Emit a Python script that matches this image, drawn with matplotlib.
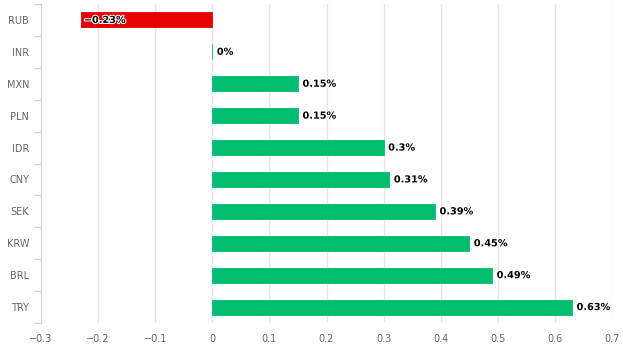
import numpy as np
import matplotlib.pyplot as plt
import matplotlib.patheffects as pe

currencies = ['RUB', 'INR', 'MXN', 'PLN', 'IDR', 'CNY', 'SEK', 'KRW', 'BRL', 'TRY']
changes = [-0.23, 0.0, 0.15, 0.15, 0.30, 0.31, 0.39, 0.45, 0.49, 0.63]
labels = ['\u22120.23%', '0%', '0.15%', '0.15%', '0.3%', '0.31%', '0.39%', '0.45%', '0.49%', '0.63%']
xticks = [-0.3, -0.2, -0.1, 0, 0.1, 0.2, 0.3, 0.4, 0.5, 0.6, 0.7]
xtick_labels = ['\u22120.3', '\u22120.2', '\u22120.1', '0', '0.1', '0.2', '0.3', '0.4', '0.5', '0.6', '0.7']

fig = plt.figure(figsize=(6.23, 3.52), dpi=100)
ax = fig.add_axes([41 / 623, 1 - 323 / 352, 571 / 623, 319 / 352])

y = np.arange(len(currencies))
colors = ['#e60000' if v < 0 else '#00be6e' for v in changes]
ax.barh(y, changes, height=0.47, color=colors, edgecolor=colors, linewidth=0.6, zorder=3)

stroke = [pe.withStroke(linewidth=1.5, foreground='white')]
for i, (v, lab) in enumerate(zip(changes, labels)):
    if v < 0:
        ax.text(v + 0.005, i, lab, ha='left', va='center', fontsize=7, fontweight='bold',
                color='black', path_effects=stroke, zorder=4)
    else:
        ax.text(v + 0.008, i, lab, ha='left', va='center', fontsize=7, fontweight='bold',
                color='black', path_effects=stroke, zorder=4)

ax.set_xlim(-0.3, 0.7)
ax.set_ylim(len(currencies) - 0.5, -0.5)
ax.set_xticks(xticks)
ax.set_xticklabels(xtick_labels)
ax.set_yticks(y)
ax.set_yticklabels(currencies)
ax.set_yticks(np.arange(-0.5, len(currencies)), minor=True)

ax.grid(axis='x', color='#e6e6e6', linewidth=1, zorder=0)
for s in ['top', 'right', 'bottom']:
    ax.spines[s].set_visible(False)
ax.spines['left'].set_color('#ccd6eb')
ax.tick_params(axis='y', which='major', length=0, labelsize=7, colors='#666666', pad=8.5)
ax.tick_params(axis='y', which='minor', length=5, color='#ccd6eb', width=1)
ax.tick_params(axis='x', length=0, labelsize=7, colors='#666666', pad=8)

fig.savefig('out.png', dpi=100)
